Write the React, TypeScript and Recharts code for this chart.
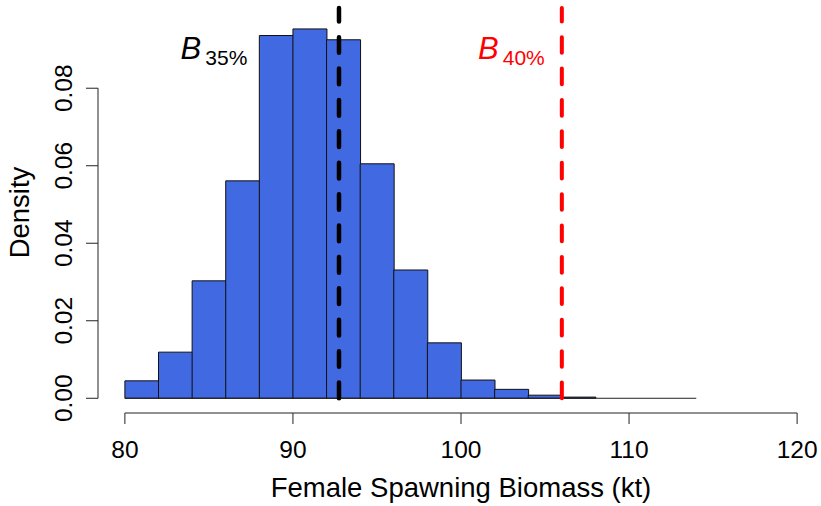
import React from 'react';
import { BarChart, Bar, XAxis, YAxis, ReferenceLine, ReferenceDot } from 'recharts';

// histogram bins (kt) and density per bin
const binStarts = [80, 82, 84, 86, 88, 90, 92, 94, 96, 98, 100, 102, 104, 106, 108, 110, 112];
const binWidth = 2;
const density = [
  0.0045, 0.0119, 0.0303, 0.0561, 0.0936, 0.0953, 0.0925, 0.0605, 0.0331, 0.0143, 0.0047, 0.0023,
  0.0008, 0.0003, 0, 0, 0,
];

const xTicks = [80, 90, 100, 110, 120];
const yTicks = [0, 0.02, 0.04, 0.06, 0.08];

// reference points
const b35 = 92.74;
const b40 = 106.0;
const labels = [
  { name: 'B35', sub: '35%', x: 85.3, y: 0.09, color: '#000000' },
  { name: 'B40', sub: '40%', x: 103.0, y: 0.09, color: '#ff0000' },
];

const W = 830;
const H = 506;
const margin = { top: 8, right: 6, left: 8, bottom: 0 };
const yAxisWidth = 90;
const xAxisHeight = 93;
const xDomain: [number, number] = [78.4, 121.6];
const yDomain: [number, number] = [-0.0038, 0.1007];

const data = binStarts.map((s, i) => ({ mid: s + binWidth / 2, density: density[i] }));
const histStart = binStarts[0];
const histEnd = binStarts[binStarts.length - 1] + binWidth;

const FONT = '"Liberation Sans", Arial, sans-serif';

const YTick = (props: any) => {
  const { x, y, payload } = props;
  return (
    <text
      x={x}
      y={y}
      transform={`rotate(-90 ${x} ${y})`}
      textAnchor="middle"
      fontSize={24.5}
      fill="#000"
      fontFamily={FONT}
    >
      {Number(payload.value).toFixed(2)}
    </text>
  );
};

const AnnotationLabel = (lab: (typeof labels)[number]) => (props: any) => {
  const { cx, cy } = props;
  return (
    <text x={cx} y={cy + 10} textAnchor="middle" fill={lab.color} fontFamily={FONT}>
      <tspan fontStyle="italic" fontSize={31}>B</tspan>
      <tspan fontSize={21} dx={4} dy={6}>{lab.sub}</tspan>
    </text>
  );
};

const App = () => {
  return (
    <div style={{ position: 'absolute', left: 0, top: 0, width: 821, height: 506, overflow: 'hidden', background: '#fff' }}>
      <BarChart
        width={W}
        height={H}
        data={data}
        margin={margin}
        barCategoryGap={0}
        barGap={0}
        style={{ fontFamily: FONT }}
      >
        <XAxis
          dataKey="mid"
          type="number"
          domain={xDomain}
          ticks={xTicks}
          allowDataOverflow
          axisLine={false}
          tickLine={{ stroke: '#222' }}
          tickSize={11}
          tickMargin={17}
          height={xAxisHeight}
          tick={{ fontSize: 24.5, fill: '#000' }}
          interval={0}
          label={({ viewBox }: any) => (
            <text
              x={viewBox.x + viewBox.width / 2}
              y={viewBox.y + 84}
              textAnchor="middle"
              fontSize={27.5}
              fill="#000"
              fontFamily={FONT}
            >
              Female Spawning Biomass (kt)
            </text>
          )}
        />
        <YAxis
          type="number"
          domain={yDomain}
          ticks={yTicks}
          allowDataOverflow
          axisLine={false}
          tickLine={{ stroke: '#222' }}
          tickSize={12}
          tickMargin={14}
          width={yAxisWidth}
          tick={<YTick />}
          interval={0}
          label={({ viewBox }: any) => (
            <text
              x={29}
              y={viewBox.y + viewBox.height / 2 + 2}
              transform={`rotate(-90 29 ${viewBox.y + viewBox.height / 2 + 2})`}
              textAnchor="middle"
              fontSize={27.5}
              fill="#000"
              fontFamily={FONT}
            >
              Density
            </text>
          )}
        />
        <Bar
          dataKey="density"
          fill="#4169E1"
          stroke="#111"
          strokeWidth={1}
          isAnimationActive={false}
        />
        {/* histogram baseline incl. empty bins */}
        <ReferenceLine
          segment={[{ x: histStart, y: 0 }, { x: histEnd, y: 0 }]}
          stroke="#222"
          strokeWidth={1}
          ifOverflow="visible"
        />
        {/* axis lines, tick to tick like base R */}
        <ReferenceLine
          segment={[{ x: xTicks[0], y: yDomain[0] }, { x: xTicks[xTicks.length - 1], y: yDomain[0] }]}
          stroke="#222"
          strokeWidth={1}
          ifOverflow="visible"
        />
        <ReferenceLine
          segment={[{ x: xDomain[0], y: yTicks[0] }, { x: xDomain[0], y: yTicks[yTicks.length - 1] }]}
          stroke="#222"
          strokeWidth={1}
          ifOverflow="visible"
        />
        <ReferenceLine
          segment={[{ x: b35, y: 0 }, { x: b35, y: yDomain[1] }]}
          stroke="#000"
          strokeWidth={4.5}
          strokeDasharray="15.7 15.7"
          strokeLinecap="round"
          ifOverflow="visible"
        />
        <ReferenceLine
          segment={[{ x: b40, y: 0 }, { x: b40, y: yDomain[1] }]}
          stroke="#ff0000"
          strokeWidth={4}
          strokeDasharray="15.7 15.7"
          strokeLinecap="round"
          ifOverflow="visible"
        />
        {labels.map((lab) => (
          <ReferenceDot
            key={lab.name}
            x={lab.x}
            y={lab.y}
            r={0}
            ifOverflow="visible"
            shape={AnnotationLabel(lab)}
          />
        ))}
      </BarChart>
    </div>
  );
};

export default App;
